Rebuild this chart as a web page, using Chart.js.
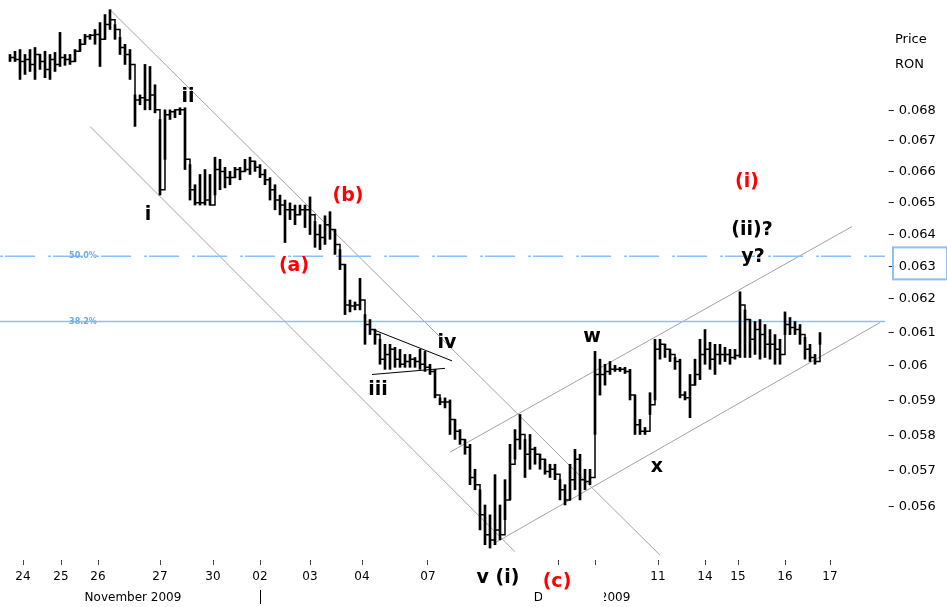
<!DOCTYPE html>
<html>
<head>
<meta charset="utf-8">
<script src="https://cdn.jsdelivr.net/npm/chart.js@4.4.1/dist/chart.umd.min.js"></script>
<style>
  html, body { margin: 0; padding: 0; background: #fff; }
  #wrap { width: 947px; height: 607px; position: relative; }
</style>
</head>
<body>
<div id="wrap"><canvas id="chart"></canvas></div>
<script>
// x is the bar number (one bar every few minutes of trading), days marked below
const dayPos = [3.6, 11.2, 18.6, 31, 41.6, 51, 61, 71.4, 84.6, 110.6, 118, 130.6, 140, 146.6, 156, 165]
const dayLabels = ['24', '25', '26', '27', '30', '02', '03', '04', '07', '', '', '11', '14', '15', '16', '17']
const priceTicks = [0.056, 0.057, 0.058, 0.059, 0.06, 0.061, 0.062, 0.063, 0.064, 0.065, 0.066, 0.067, 0.068]

const highs = [
  0.06989, 0.07000, 0.07006, 0.06989, 0.07006, 0.07013, 0.06989, 0.07000, 0.06989, 0.06996,
  0.07065, 0.06989, 0.06989, 0.07006, 0.07041, 0.07058, 0.07058, 0.07075, 0.07099, 0.07127,
  0.07144, 0.07092, 0.07048, 0.07024, 0.07006, 0.06852, 0.06852, 0.06955, 0.06948, 0.06886,
  0.06770, 0.06802, 0.06802, 0.06802, 0.06809, 0.06809, 0.06622, 0.06557, 0.06590, 0.06606,
  0.06590, 0.06646, 0.06639, 0.06613, 0.06600, 0.06613, 0.06613, 0.06639, 0.06646, 0.06633,
  0.06622, 0.06606, 0.06580, 0.06557, 0.06524, 0.06508, 0.06499, 0.06492, 0.06492, 0.06492,
  0.06518, 0.06440, 0.06430, 0.06458, 0.06471, 0.06415, 0.06352, 0.06306, 0.06197, 0.06191,
  0.06263, 0.06153, 0.06138, 0.06108, 0.06079, 0.06064, 0.06064, 0.06055, 0.06049, 0.06034,
  0.06034, 0.06025, 0.06049, 0.06043, 0.06005, 0.05990, 0.05907, 0.05907, 0.05901, 0.05845,
  0.05816, 0.05788, 0.05774, 0.05704, 0.05647, 0.05605, 0.05578, 0.05689, 0.05605, 0.05675,
  0.05774, 0.05816, 0.05859, 0.05788, 0.05802, 0.05766, 0.05746, 0.05732, 0.05718, 0.05718,
  0.05675, 0.05661, 0.05718, 0.05760, 0.05746, 0.05704, 0.05704, 0.06043, 0.06020, 0.06005,
  0.06013, 0.06002, 0.05996, 0.05996, 0.05990, 0.05915, 0.05845, 0.05822, 0.05922, 0.06079,
  0.06079, 0.06064, 0.06049, 0.06025, 0.06020, 0.05925, 0.05975, 0.06020, 0.06079, 0.06108,
  0.06070, 0.06064, 0.06064, 0.06055, 0.06049, 0.06049, 0.06222, 0.06167, 0.06138, 0.06132,
  0.06138, 0.06123, 0.06108, 0.06093, 0.06079, 0.06161, 0.06144, 0.06132, 0.06123, 0.06085,
  0.06064, 0.06034, 0.06099
]
const lows = [
  0.06965, 0.06965, 0.06904, 0.06921, 0.06931, 0.06904, 0.06938, 0.06910, 0.06904, 0.06931,
  0.06948, 0.06952, 0.06955, 0.06965, 0.07000, 0.07024, 0.07041, 0.07024, 0.06948, 0.07041,
  0.07075, 0.07041, 0.06989, 0.06955, 0.06904, 0.06747, 0.06819, 0.06802, 0.06802, 0.06792,
  0.06524, 0.06639, 0.06770, 0.06776, 0.06786, 0.06606, 0.06508, 0.06492, 0.06492, 0.06492,
  0.06492, 0.06524, 0.06541, 0.06547, 0.06557, 0.06580, 0.06573, 0.06600, 0.06590, 0.06600,
  0.06580, 0.06557, 0.06508, 0.06477, 0.06461, 0.06374, 0.06446, 0.06430, 0.06461, 0.06421,
  0.06399, 0.06359, 0.06352, 0.06368, 0.06384, 0.06337, 0.06290, 0.06153, 0.06161, 0.06167,
  0.06167, 0.06064, 0.06093, 0.06064, 0.06005, 0.05990, 0.05990, 0.05996, 0.05996, 0.05996,
  0.05996, 0.05996, 0.05990, 0.05984, 0.05975, 0.05907, 0.05887, 0.05878, 0.05802, 0.05788,
  0.05774, 0.05746, 0.05661, 0.05647, 0.05537, 0.05497, 0.05488, 0.05497, 0.05510, 0.05565,
  0.05619, 0.05732, 0.05760, 0.05681, 0.05704, 0.05718, 0.05704, 0.05690, 0.05681, 0.05675,
  0.05619, 0.05605, 0.05619, 0.05647, 0.05619, 0.05647, 0.05661, 0.05802, 0.05915, 0.05944,
  0.05975, 0.05984, 0.05984, 0.05978, 0.05901, 0.05802, 0.05802, 0.05802, 0.05859, 0.05901,
  0.06020, 0.06025, 0.06013, 0.05990, 0.05907, 0.05901, 0.05850, 0.05944, 0.05960, 0.06005,
  0.05990, 0.05975, 0.06005, 0.06013, 0.06005, 0.06020, 0.06025, 0.06025, 0.06025, 0.06034,
  0.06020, 0.06025, 0.06020, 0.06005, 0.06005, 0.06093, 0.06093, 0.06093, 0.06064, 0.06020,
  0.06013, 0.06005, 0.06064
]
const closes = [
  0.06979, 0.06972, 0.06965, 0.06972, 0.06955, 0.06989, 0.06965, 0.06938, 0.06972, 0.06955,
  0.06979, 0.06972, 0.06965, 0.07000, 0.07024, 0.07051, 0.07055, 0.07058, 0.07041, 0.07092,
  0.07109, 0.07075, 0.07013, 0.06989, 0.06955, 0.06835, 0.06842, 0.06835, 0.06852, 0.06802,
  0.06541, 0.06786, 0.06796, 0.06802, 0.06802, 0.06639, 0.06541, 0.06499, 0.06499, 0.06508,
  0.06492, 0.06606, 0.06600, 0.06580, 0.06580, 0.06606, 0.06600, 0.06606, 0.06633, 0.06613,
  0.06590, 0.06573, 0.06541, 0.06508, 0.06492, 0.06477, 0.06477, 0.06461, 0.06477, 0.06477,
  0.06461, 0.06399, 0.06390, 0.06430, 0.06415, 0.06368, 0.06306, 0.06182, 0.06179, 0.06182,
  0.06197, 0.06123, 0.06108, 0.06093, 0.06020, 0.06034, 0.06049, 0.06020, 0.06005, 0.06013,
  0.06020, 0.06013, 0.06005, 0.05996, 0.05984, 0.05915, 0.05895, 0.05895, 0.05845, 0.05811,
  0.05788, 0.05766, 0.05681, 0.05661, 0.05578, 0.05524, 0.05510, 0.05537, 0.05524, 0.05619,
  0.05718, 0.05788, 0.05802, 0.05746, 0.05760, 0.05746, 0.05732, 0.05698, 0.05704, 0.05690,
  0.05647, 0.05619, 0.05675, 0.05732, 0.05675, 0.05670, 0.05681, 0.05975, 0.05975, 0.05984,
  0.05990, 0.05990, 0.05990, 0.05984, 0.05915, 0.05830, 0.05811, 0.05811, 0.05887, 0.06049,
  0.06064, 0.06049, 0.06034, 0.06013, 0.05915, 0.05907, 0.05944, 0.05975, 0.06034, 0.06049,
  0.06020, 0.06034, 0.06034, 0.06034, 0.06025, 0.06031, 0.06182, 0.06138, 0.06079, 0.06108,
  0.06093, 0.06064, 0.06064, 0.06049, 0.06034, 0.06123, 0.06114, 0.06108, 0.06093, 0.06049,
  0.06025, 0.06013, 0.06085
]

// fibonacci retracement levels
const fib50 = 0.06331
const fib382 = 0.06132

// trend channels and the triangle, as [start, end] anchors
const downUpper = [{ x: 21, y: 0.07144 }, { x: 131, y: 0.05469 }]
const downLower = [{ x: 17, y: 0.06747 }, { x: 102, y: 0.05478 }]
const upUpper = [{ x: 89, y: 0.05752 }, { x: 169.4, y: 0.06424 }]
const upLower = [{ x: 98, y: 0.05502 }, { x: 175, y: 0.06129 }]
const triTop = [{ x: 73.6, y: 0.06108 }, { x: 89.4, y: 0.06015 }]
const triBottom = [{ x: 73.4, y: 0.05975 }, { x: 88, y: 0.05993 }]

// wave count labels
const waveNotes = [
  { text: 'ii', x: 36.6, y: 0.06845, red: false },
  { text: 'i', x: 28.6, y: 0.06461, red: false },
  { text: '(a)', x: 57.8, y: 0.06300, red: true },
  { text: '(b)', x: 68.6, y: 0.06521, red: true },
  { text: 'iv', x: 88.4, y: 0.06067, red: false },
  { text: 'iii', x: 74.6, y: 0.05930, red: false },
  { text: 'w', x: 117.4, y: 0.06087, red: false },
  { text: 'x', x: 130.4, y: 0.05710, red: false },
  { text: '(i)', x: 148.4, y: 0.06566, red: true },
  { text: '(ii)?', x: 149.4, y: 0.06413, red: false },
  { text: 'y?', x: 149.6, y: 0.06330, red: false }
]

const RED = '#ff0000'
const BLUE = '#8cc0f6'
const GREY = '#a3a3a3'
const FONT = '"DejaVu Sans", sans-serif'

Chart.defaults.font.family = FONT
Chart.defaults.color = '#000'

function segment (points, color, width, dash) {
  return {
    type: 'line',
    data: points,
    borderColor: color,
    borderWidth: width,
    borderDash: dash || [],
    pointRadius: 0,
    order: 5
  }
}

const overlay = {
  id: 'overlay',
  afterDraw (chart) {
    const { ctx, chartArea } = chart
    const xs = chart.scales.x
    const ys = chart.scales.y
    const bottom = chartArea.bottom
    ctx.save()
    ctx.textAlign = 'center'
    ctx.textBaseline = 'middle'

    // fib level captions
    ctx.font = 'bold 8px ' + FONT
    ctx.fillStyle = '#6fa9ec'
    ctx.fillText('50.0%', xs.getPixelForValue(15.6), ys.getPixelForValue(fib50))
    ctx.fillText('38.2%', xs.getPixelForValue(15.6), ys.getPixelForValue(fib382))

    // box round the level on the price axis
    const by = ys.getPixelForValue(0.063)
    ctx.strokeStyle = BLUE
    ctx.lineWidth = 2
    ctx.strokeRect(chartArea.right + 8, by - 19, 54, 32)

    // axis header
    ctx.fillStyle = '#000'
    ctx.font = '13px ' + FONT
    ctx.textAlign = 'left'
    ctx.fillText('Price', chartArea.right + 10, 40)
    ctx.fillText('RON', chartArea.right + 10, 65)

    // month captions
    ctx.textAlign = 'center'
    ctx.font = '12px ' + FONT
    ctx.fillText('November 2009', xs.getPixelForValue(25.6), bottom + 38)
    ctx.fillText('December 2009', xs.getPixelForValue(115.4), bottom + 38)
    const sep = xs.getPixelForValue(dayPos[5])
    ctx.fillRect(sep, bottom + 30, 1, 14)

    // wave labels
    ctx.font = 'bold 19px ' + FONT
    for (const n of waveNotes) {
      ctx.fillStyle = n.red ? RED : '#000'
      ctx.fillText(n.text, xs.getPixelForValue(n.x), ys.getPixelForValue(n.y))
    }
    ctx.fillStyle = '#000'
    ctx.fillText('v (i)', xs.getPixelForValue(98.6), bottom + 18)
    const cx = xs.getPixelForValue(110.4)
    ctx.fillStyle = '#fff'
    ctx.fillRect(cx - 15, bottom + 8, 62, 38)
    ctx.fillStyle = RED
    ctx.fillText('(c)', cx, bottom + 22)
    ctx.restore()
  }
}

new Chart(document.getElementById('chart'), {
  type: 'bar',
  data: {
    datasets: [
      {
        type: 'line',
        data: closes.map((c, i) => ({ x: i + 1, y: c })),
        stepped: true,
        borderColor: '#000',
        borderWidth: 1.5,
        pointRadius: 0,
        order: 0
      },
      {
        type: 'bar',
        data: highs.map((h, i) => ({ x: i + 1, y: [lows[i], h] })),
        backgroundColor: '#000',
        barThickness: 2,
        grouped: false,
        order: 1
      },
      segment([{ x: -1, y: fib50 }, { x: 176, y: fib50 }], BLUE, 1.5, [3, 2, 30, 13]),
      segment([{ x: -1, y: fib382 }, { x: 176, y: fib382 }], BLUE, 1.5),
      segment(downUpper, GREY, 1),
      segment(downLower, GREY, 1),
      segment(upUpper, GREY, 1),
      segment(upLower, GREY, 1),
      segment(triTop, '#000', 1),
      segment(triBottom, '#000', 1)
    ]
  },
  options: {
    responsive: true,
    maintainAspectRatio: false,
    animation: false,
    devicePixelRatio: 1,
    layout: { padding: 0 },
    plugins: {
      legend: { display: false },
      tooltip: { enabled: false }
    },
    scales: {
      x: {
        type: 'linear',
        min: -1,
        max: 176,
        bounds: 'data',
        offset: false,
        border: { display: false },
        grid: { display: true, offset: false, drawOnChartArea: false, tickLength: 5, color: '#444' },
        afterBuildTicks: (scale) => { scale.ticks = dayPos.map(v => ({ value: v })) },
        afterFit: (scale) => {
          scale.height = 47
          scale.paddingLeft = 0
          scale.paddingRight = 0
        },
        ticks: {
          autoSkip: false,
          maxRotation: 0,
          padding: 5,
          font: { size: 12 },
          callback: (value, index) => dayLabels[index]
        }
      },
      y: {
        type: 'logarithmic',
        position: 'right',
        min: 0.05456,
        max: 0.07178,
        bounds: 'data',
        border: { display: false },
        grid: { display: false, drawTicks: false },
        afterBuildTicks: (scale) => { scale.ticks = priceTicks.map(v => ({ value: v })) },
        afterFit: (scale) => {
          scale.width = 62
          scale.paddingTop = 0
          scale.paddingBottom = 0
        },
        ticks: {
          padding: 3,
          font: { size: 13 },
          callback: (value) => '\u2013 ' + String(+value.toFixed(3))
        }
      }
    }
  },
  plugins: [overlay]
})
</script>
</body>
</html>
